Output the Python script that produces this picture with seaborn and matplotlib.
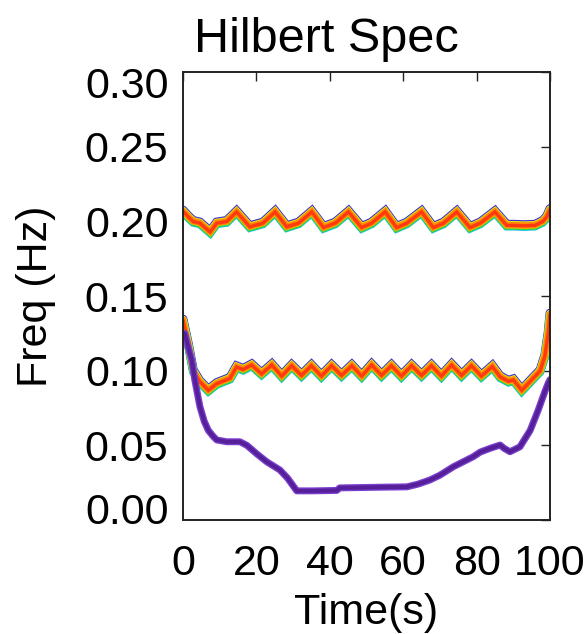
import numpy as np
import pandas as pd
import matplotlib
matplotlib.use("Agg")
import matplotlib.pyplot as plt
import matplotlib.transforms as mtransforms
from matplotlib.ticker import FixedLocator
import seaborn as sns

sns.set_theme(style="white")
plt.rcParams['font.family'] = ['Liberation Sans', 'DejaVu Sans']

# ---------------- data ----------------
t_upper = [0, 1.5, 2.8, 4.6, 7.4, 9.2, 11.9, 14.6, 18.2, 21.8, 25.1, 28.3, 31.5,
           35.1, 38.3, 41.5, 45.1, 48.7, 51.4, 55.1, 58.2, 61.0, 65.0, 68.2,
           71.0, 74.6, 78.2, 81.0, 85.0, 88.2, 90.0, 93.0, 95.9, 98.0, 99.1, 100]
f_upper = [0.207, 0.203, 0.200, 0.199, 0.193, 0.199, 0.200, 0.2065, 0.1965,
           0.199, 0.2065, 0.1965, 0.199, 0.2065, 0.196, 0.199, 0.2065, 0.196,
           0.199, 0.2065, 0.196, 0.199, 0.2065, 0.196, 0.199, 0.2065, 0.196,
           0.199, 0.2065, 0.1975, 0.1975, 0.1972, 0.1975, 0.200, 0.203, 0.208]

t_lower = [0, 1.5, 2.8, 4.5, 6.9, 9.2, 12.8, 14.6, 16.4, 18.7, 21.4, 24.2, 26.9,
           29.6, 32.3, 35.0, 37.7, 40.5, 43.2, 46.0, 48.7, 51.4, 54.1, 56.8,
           59.5, 62.3, 65.0, 67.7, 70.4, 73.2, 75.9, 78.6, 81.3, 84.3, 86.4,
           88.7, 90.0, 92.3, 94.6, 97.3, 98.6, 99.5, 100]
f_lower = [0.134, 0.117, 0.100, 0.093, 0.087, 0.0915, 0.095, 0.1027, 0.101,
           0.104, 0.098, 0.104, 0.0965, 0.1035, 0.097, 0.1035, 0.0965, 0.1035,
           0.097, 0.1035, 0.0965, 0.104, 0.097, 0.1035, 0.0965, 0.1035, 0.097,
           0.1035, 0.0965, 0.104, 0.097, 0.1035, 0.0965, 0.103, 0.096, 0.093,
           0.094, 0.087, 0.093, 0.100, 0.110, 0.125, 0.138]

t_trend = [0.5, 1.5, 2.4, 3.2, 4.6, 5.8, 6.9, 8.3, 9.2, 11.9, 15.5, 17.4, 20.0,
           22.8, 26.4, 28.5, 31.0, 35.0, 41.9, 42.7, 50.0, 55.0, 61.0, 64.0,
           67.3, 70.0, 73.7, 79.1, 81.0, 83.7, 86.4, 87.5, 89.1, 91.8, 94.6,
           96.8, 98.6, 99.5, 100]
f_trend = [0.125, 0.115, 0.107, 0.094, 0.076, 0.066, 0.060, 0.0558, 0.0536,
           0.0524, 0.0524, 0.050, 0.0445, 0.039, 0.0335, 0.028, 0.0195, 0.0195,
           0.0198, 0.0215, 0.0218, 0.022, 0.0222, 0.024, 0.0268, 0.030, 0.0357,
           0.0424, 0.0455, 0.048, 0.0502, 0.048, 0.0457, 0.049, 0.060, 0.0737,
           0.086, 0.0915, 0.094]

x_ticks = [0, 20, 40, 60, 80, 100]
y_ticks = [0.00, 0.05, 0.10, 0.15, 0.20, 0.25, 0.30]
y_ticklabels = ["0.00", "0.05", "0.10", "0.15", "0.20", "0.25", "0.30"]

# ---------------- figure ----------------
fig = plt.figure(figsize=(5.88, 6.34), dpi=100)
ax = fig.add_axes([183/588, 1-520/634, 367/588, 448/634])

upper = pd.DataFrame({"t": t_upper, "f": f_upper})
lower = pd.DataFrame({"t": t_lower, "f": f_lower})
trend = pd.DataFrame({"t": t_trend, "f": f_trend})

# rainbow layers (colour, width, vertical offset in points)
layers = [("#3a2fd0", 6.4, 0.6), ("#20b8e8", 6.2, -0.8), ("#30d830", 5.8, -0.4),
          ("#e8e020", 5.4, 0.3), ("#ff8a00", 4.6, 0.0), ("#ff3a10", 2.4, -0.2)]

def layered(df):
    for col, lw, dy in layers:
        sns.lineplot(data=df, x="t", y="f", color=col, linewidth=lw, ax=ax,
                     estimator=None, sort=False)
        ln = ax.lines[-1]
        ln.set_transform(mtransforms.offset_copy(ln.get_transform(), fig=fig,
                                                 x=0, y=dy, units='points'))
        ln.set_solid_joinstyle('miter')

layered(upper)
layered(lower)
sns.lineplot(data=trend, x="t", y="f", color="#7a3fcc", linewidth=5.0, ax=ax,
             estimator=None, sort=False)
sns.lineplot(data=trend, x="t", y="f", color="#55209a", linewidth=3.0, ax=ax,
             estimator=None, sort=False)

ax.set_xlim(0, 100)
ax.set_ylim(0, 0.30)
ax.xaxis.set_major_locator(FixedLocator(x_ticks))
ax.yaxis.set_major_locator(FixedLocator(y_ticks))
ax.set_yticklabels(y_ticklabels)
ax.set_xticklabels([str(v) for v in x_ticks])

for s in ax.spines.values():
    s.set_visible(True)
    s.set_color("#222222")
    s.set_linewidth(1.4)

ax.tick_params(axis='both', which='major', direction='in', length=6.5,
               width=1.0, color="#222222", labelsize=31, labelcolor='black',
               top=True, right=True)
ax.tick_params(axis='y', pad=10.5)
ax.tick_params(axis='x', pad=17)

ax.set_xlabel("Time(s)", fontsize=31, color='black')
ax.set_ylabel("Freq (Hz)", fontsize=31, color='black')
ax.xaxis.set_label_coords(0.5, (520-593)/448)
ax.yaxis.set_label_coords((56-183)/367, 0.5)

fig.text(326/588, 1-52/634, "Hilbert Spec", fontsize=35, ha='center',
         va='baseline', color='black')

# IDL style: end labels pulled inward
fig.canvas.draw()
ticks = ax.yaxis.get_major_ticks()
shift = {0: 12/100, len(ticks)-1: -10/100}
for i, dy in shift.items():
    lab = ticks[i].label1
    lab.set_transform(lab.get_transform() +
                      mtransforms.ScaledTranslation(0, dy, fig.dpi_scale_trans))

fig.savefig("out.png", dpi=100)
